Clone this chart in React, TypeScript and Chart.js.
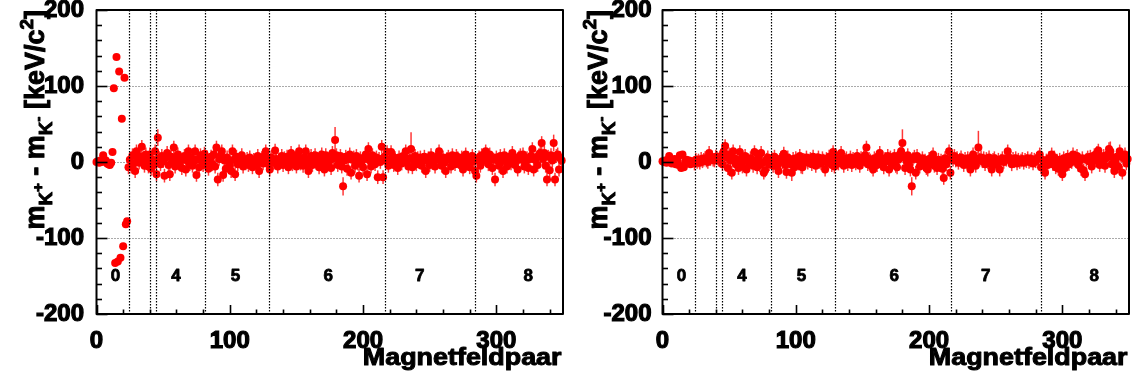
import React, { useEffect, useRef } from "react";
import { Chart, registerables } from "chart.js";

Chart.register(...registerables);

const FONT = "'Liberation Sans', Arial, Helvetica, sans-serif";

const X_MIN = 0;
const X_MAX = 350;
const Y_MIN = -200;
const Y_MAX = 200;
const X_TICKS = [0, 100, 200, 300];
const Y_TICKS = [-200, -100, 0, 100, 200];
const MINOR_STEP = 20;
const GRID_Y = [-100, 0, 100];

const BOUNDARIES = [24.7, 40.4, 44.5, 81.3, 129.5, 216.4, 284];
const REGION_LABELS = ["0", "4", "5", "6", "7", "8"];
const REGION_LABEL_X = [14.3, 59.7, 104.2, 173.8, 242.6, 324];
const REGION_LABEL_Y = -150;

const X_TITLE = "Magnetfeldpaar";

// m(K+) - m(K-) per Magnetfeldpaar, left panel (x = index)
const LEFT_VALUES = [
  0, 1, -1, 2, 0, 9, 3, 2, -2, -3, -4, -1, 13,
  97, -133, 138, -131, 119, -126, 57, -111, 111, -82, -78,
  -7, 3, -6, 9, -2, -12, 14, 5, -1, 7,
  20, 4, -5, 10, 2, -6, 10, -9, 3, -4,
  14, -16, 32, 5, -3, 8, 1, -18, 6, 12,
  -4, -16, 7, 2, 19, -6, 4, 10, -2, 5,
  -8, 3, 8, -10, 2, 14, -3, 6, -5, 1,
  14, -17, 4, -7, 9, 2, -4, 11, 0, 6,
  -9, 3, 7, -3, 10, -6, 19, -23, 4, 8,
  14, -17, 2, -9, 6, 1, -5, -12, 14, 3,
  -16, 7, -3, 2, 5, 9, -6, 1, -2, 4,
  -4, 6, 0, -7, 3, 2, -5, 8, -12, 1,
  5, -2, 8, 14, 3, -3, -10, 6, 2, -1,
  15, 4, -6, 3, 0, 8, -4, 5, -2, 7,
  -7, 2, 12, -3, 5, 0, -6, 9, 14, -2,
  4, -5, 6, 14, -3, -12, 2, 8, -4, 5,
  9, -1, 3, -7, 6, 10, -2, -10, 9, 4,
  -3, 2, -8, 12, 5, 29, 9, -4, 3, 8,
  -6, -32, 2, 7, -9, 4, 10, -14, 3, 6,
  -5, 8, -2, -18, 5, 1, -7, 4, 10, -16,
  17, 2, -6, 9, 3, -3, 6, -20, 4, 0,
  20, -20, 7, 2, 13, -5, 3, 13, 8, -4,
  5, 1, -8, 6, 3, -2, 8, 4, 14, 2,
  -6, 5, 17, -7, 2, 8, -3, 5, 0, 6,
  -5, 3, 7, -12, 2, 5, -4, 9, -1, 4,
  -6, 3, 8, 14, 2, -5, 6, -1, -12, 4,
  7, 3, -6, 9, 2, -3, 8, 5, 0, -4,
  6, -10, 3, 10, -2, 5, -7, 4, 8, 1,
  -12, -18, 3, 6, -5, 9, 2, 4, 14, 7,
  -3, 10, 5, -8, 3, -23, 6, 2, -5, 8,
  1, -12, 9, 4, -6, 3, 7, -2, 12, 5,
  -4, 2, -10, 6, 9, 3, 10, -6, 1, 5,
  -8, 4, 8, 17, -10, 3, 6, -4, 9, 12,
  25, 4, 12, -5, -23, 7, -11, 9, 2, 25,
  -23, 8, 10, -10, 5, 2,
];

// right panel (x = index)
const RIGHT_VALUES = [
  1, 0, 2, -1, 3, 8, 1, -2, 0, 4,
  -3, 2, -4, 9, -8, 10, -7, 1, 3, -1,
  2, -3, 0, 1, -2, 3, 0, 2, -1, 4,
  1, 3, 5, 2, 0, 12, 4, 6, 3, 2,
  7, 5, 3, 6, 8, -3, 14, 21, 6, -8,
  10, 2, -14, 14, 5, -3, 0, -8, 13, 4,
  -6, 2, 8, -10, 3, -2, 5, 0, -5, 13,
  2, -7, 6, -4, 12, -1, -14, -11, 3, 6,
  -3, 1, 4, -5, 7, 2, -6, -12, 3, 5,
  0, 11, -4, -13, 6, 2, -3, -14, 4, -7,
  5, 1, -2, 8, -6, -7, 3, 0, 6, -1,
  2, 4, -3, 7, 1, -5, 3, 6, 0, -2,
  5, 2, -10, 4, -1, 7, 3, -4, 13, -6,
  9, 4, -2, 6, 12, 1, -5, 3, 5, -3,
  2, 6, -4, 4, 1, -2, 8, 3, -5, 5,
  0, 6, 9, 19, -3, 4, 2, -6, -10, 5,
  3, -4, 7, 12, -2, 5, -7, 4, 1, 8,
  -10, 6, -3, 2, 8, -5, -7, 3, 10, 14,
  25, 6, -8, 2, 9, -4, -10, -32, 4, 7,
  -14, 8, 3, -6, 0, 5, -3, 2, -8, -10,
  4, -2, 6, 10, -5, 1, -8, 3, -4, 2,
  -9, -21, 5, -3, 2, 14, -14, 6, 3, 8,
  2, 5, -1, 3, 6, 2, -4, 4, 0, 5,
  -3, -10, 6, 10, 2, -5, 4, 19, 3, 6,
  1, 5, -3, 4, 0, 6, -2, -10, 3, 5,
  1, -4, 3, -10, 2, 5, 0, 4, 3, 14,
  6, 2, -3, 4, 1, 5, -2, 3, 0, 2,
  4, -1, 3, 1, 5, 0, 2, 4, -2, 3,
  1, 4, 6, 10, -7, 3, -5, -14, 2, -4,
  5, 1, 10, -3, 6, -7, 2, -9, 3, -5,
  -16, 5, -8, 2, 7, -3, 4, 0, 10, 3,
  6, 8, -4, 2, -9, 5, -11, -16, 3, 6,
  1, 7, -6, 3, 9, 2, 12, 15, -4, 6,
  3, 8, -5, 5, 10, 17, 14, -3, 6, -12,
  2, 7, -6, 14, 8, -14, 5, 10, -2, 4,
];

const ERR_REGION0 = 3;
const ERR_TYPICAL = 9;
const REGION0_END = 24;
const LEFT_ERR_BIG: [number, number][] = [[46, 11], [179, 17], [185, 12], [236, 22], [343, 11]];
const RIGHT_ERR_BIG: [number, number][] = [[97, 11], [180, 18], [187, 12], [237, 22], [336, 13]];

type PanelProps = {
  values: number[];
  errBig: [number, number][];
  left: number;
  width: number;
  yAxisWidth: number;
  padRight: number;
  yLabelPad: number;
  yTitleBase: number;
};

const HEIGHT = 381;
const PAD_TOP = 10;
const X_AXIS_HEIGHT = 67;

function boldText(ctx: CanvasRenderingContext2D, t: string, x: number, y: number, sw: number) {
  ctx.lineWidth = sw;
  ctx.lineJoin = "round";
  ctx.strokeStyle = "#000";
  ctx.strokeText(t, x, y);
  ctx.fillText(t, x, y);
}

function drawYTitle(ctx: CanvasRenderingContext2D, xBase: number, yTop: number, size: number) {
  const parts = [
    { t: "m", s: 1, dy: 0 },
    { t: "K", s: 0.7, dy: 0.28 },
    { t: "+", s: 0.55, dy: -0.05 },
    { t: " - m", s: 1, dy: 0 },
    { t: "K", s: 0.7, dy: 0.28 },
    { t: "-", s: 0.55, dy: -0.05 },
    { t: " [keV/c", s: 1, dy: 0 },
    { t: "2", s: 0.7, dy: -0.42 },
    { t: "]", s: 1, dy: 0 },
  ];
  let total = 0;
  const widths: number[] = [];
  for (const p of parts) {
    ctx.font = `bold ${p.s * size}px ${FONT}`;
    const w = ctx.measureText(p.t).width;
    widths.push(w);
    total += w;
  }
  ctx.save();
  ctx.translate(xBase, yTop);
  ctx.rotate(-Math.PI / 2);
  ctx.fillStyle = "#000";
  ctx.textBaseline = "alphabetic";
  ctx.textAlign = "left";
  let x = -total;
  parts.forEach((p, i) => {
    ctx.font = `bold ${p.s * size}px ${FONT}`;
    boldText(ctx, p.t, x, p.dy * size, 1);
    x += widths[i];
  });
  ctx.restore();
}

function errFor(i: number, errBig: [number, number][]) {
  const found = errBig.find((e) => e[0] === i);
  if (found) return found[1];
  return i < REGION0_END ? ERR_REGION0 : ERR_TYPICAL;
}

function Panel(props: PanelProps) {
  const ref = useRef<HTMLCanvasElement | null>(null);
  useEffect(() => {
    const canvas = ref.current;
    if (!canvas) return;
    const { values, errBig } = props;

    const decor = {
      id: "rootDecor",
      beforeDatasetsDraw(chart: any) {
        const ctx = chart.ctx as CanvasRenderingContext2D;
        const a = chart.chartArea;
        const xs = chart.scales.x;
        const ys = chart.scales.y;
        ctx.save();
        // horizontal dotted grid
        ctx.strokeStyle = "#555";
        ctx.lineWidth = 1;
        ctx.setLineDash([1, 2]);
        for (const g of GRID_Y) {
          const py = Math.round(ys.getPixelForValue(g)) + 0.5;
          ctx.beginPath();
          ctx.moveTo(a.left, py);
          ctx.lineTo(a.right, py);
          ctx.stroke();
        }
        ctx.setLineDash([]);
        // error bars
        ctx.strokeStyle = "rgba(255,20,20,0.85)";
        ctx.lineWidth = 1.5;
        values.forEach((v, i) => {
          const e = errFor(i, errBig);
          const px = xs.getPixelForValue(i);
          ctx.beginPath();
          ctx.moveTo(px, ys.getPixelForValue(v - e));
          ctx.lineTo(px, ys.getPixelForValue(v + e));
          ctx.stroke();
        });
        ctx.restore();
      },
      afterDatasetsDraw(chart: any) {
        const ctx = chart.ctx as CanvasRenderingContext2D;
        const a = chart.chartArea;
        const xs = chart.scales.x;
        const ys = chart.scales.y;
        ctx.save();
        ctx.strokeStyle = "#000";
        ctx.lineWidth = 1.2;
        ctx.setLineDash([1.5, 1.5]);
        for (const b of BOUNDARIES) {
          const px = Math.round(xs.getPixelForValue(b)) + 0.5;
          ctx.beginPath();
          ctx.moveTo(px, a.top);
          ctx.lineTo(px, a.bottom);
          ctx.stroke();
        }
        ctx.setLineDash([]);
        // region labels
        ctx.fillStyle = "#000";
        ctx.font = `bold 17px ${FONT}`;
        ctx.textAlign = "center";
        ctx.textBaseline = "middle";
        REGION_LABELS.forEach((t, i) => {
          boldText(ctx, t, xs.getPixelForValue(REGION_LABEL_X[i]), ys.getPixelForValue(REGION_LABEL_Y), 0.8);
        });
        // frame
        ctx.strokeStyle = "#000";
        ctx.lineWidth = 2;
        ctx.strokeRect(a.left, a.top, a.right - a.left, a.bottom - a.top);
        // ticks on y (left, inside)
        ctx.lineWidth = 1.6;
        for (let v = Y_MIN; v <= Y_MAX; v += MINOR_STEP) {
          const major = Y_TICKS.includes(v);
          const py = Math.round(ys.getPixelForValue(v)) + 0.5;
          ctx.beginPath();
          ctx.moveTo(a.left, py);
          ctx.lineTo(a.left + (major ? 11 : 5.5), py);
          ctx.stroke();
        }
        // ticks on x (bottom, inside)
        for (let v = X_MIN; v <= X_MAX; v += MINOR_STEP) {
          const major = X_TICKS.includes(v);
          const px = Math.round(xs.getPixelForValue(v)) + 0.5;
          ctx.beginPath();
          ctx.moveTo(px, a.bottom);
          ctx.lineTo(px, a.bottom - (major ? 9 : 4.5));
          ctx.stroke();
        }
        ctx.restore();
      },
      afterDraw(chart: any) {
        const ctx = chart.ctx as CanvasRenderingContext2D;
        const a = chart.chartArea;
        ctx.save();
        ctx.fillStyle = "#000";
        ctx.font = `bold 24px ${FONT}`;
        ctx.textAlign = "right";
        ctx.textBaseline = "alphabetic";
        ctx.translate(a.right - 1.5, 365);
        ctx.scale(1.12, 1);
        boldText(ctx, X_TITLE, 0, 0, 1);
        ctx.restore();
        drawYTitle(ctx, props.yTitleBase, a.top, 27);
      },
    };

    const tickFont = { family: FONT, size: 24, weight: "bold" };
    const chart = new Chart(canvas, {
      type: "scatter",
      data: {
        datasets: [
          {
            data: values.map((v, i) => ({ x: i, y: v })),
            pointRadius: 4,
            pointHoverRadius: 4,
            pointBackgroundColor: "#ff0000",
            pointBorderWidth: 0,
            showLine: false,
            clip: false as any,
          },
        ],
      },
      options: {
        animation: false,
        responsive: false,
        devicePixelRatio: 1,
        events: [],
        layout: { padding: { left: 0, top: PAD_TOP, right: props.padRight, bottom: 0 } },
        plugins: { legend: { display: false }, tooltip: { enabled: false } },
        scales: {
          x: {
            type: "linear",
            min: X_MIN,
            max: X_MAX,
            afterBuildTicks: (s: any) => {
              s.ticks = X_TICKS.map((v) => ({ value: v }));
            },
            ticks: {
              font: tickFont,
              color: "#000",
              textStrokeColor: "#000",
              textStrokeWidth: 1.2,
              padding: 5,
              maxRotation: 0,
              autoSkip: false,
            },
            grid: { display: false },
            border: { display: false },
            afterFit: (s: any) => {
              s.height = X_AXIS_HEIGHT;
              s.paddingLeft = 0;
              s.paddingRight = 0;
            },
          },
          y: {
            type: "linear",
            min: Y_MIN,
            max: Y_MAX,
            afterBuildTicks: (s: any) => {
              s.ticks = Y_TICKS.map((v) => ({ value: v }));
            },
            ticks: {
              font: tickFont,
              color: "#000",
              textStrokeColor: "#000",
              textStrokeWidth: 1.2,
              padding: props.yLabelPad,
              autoSkip: false,
            },
            grid: { display: false },
            border: { display: false },
            afterFit: (s: any) => {
              s.width = props.yAxisWidth;
              s.paddingTop = 0;
              s.paddingBottom = 0;
            },
          },
        },
      },
      plugins: [decor],
    } as any);
    return () => chart.destroy();
  }, []);

  return (
    <div style={{ position: "absolute", left: props.left, top: 0, width: props.width, height: HEIGHT }}>
      <canvas ref={ref} width={props.width} height={HEIGHT} style={{ display: "block" }} />
    </div>
  );
}

export default function App() {
  return (
    <div style={{ position: "absolute", left: 0, top: 0, width: 1135, height: HEIGHT, background: "#fff" }}>
      <Panel
        values={LEFT_VALUES}
        errBig={LEFT_ERR_BIG}
        left={0}
        width={567}
        yAxisWidth={96.5}
        padRight={3.7}
        yLabelPad={4.5}
        yTitleBase={44}
      />
      <Panel
        values={RIGHT_VALUES}
        errBig={RIGHT_ERR_BIG}
        left={567}
        width={568}
        yAxisWidth={95.5}
        padRight={6}
        yLabelPad={3}
        yTitleBase={40}
      />
    </div>
  );
}
